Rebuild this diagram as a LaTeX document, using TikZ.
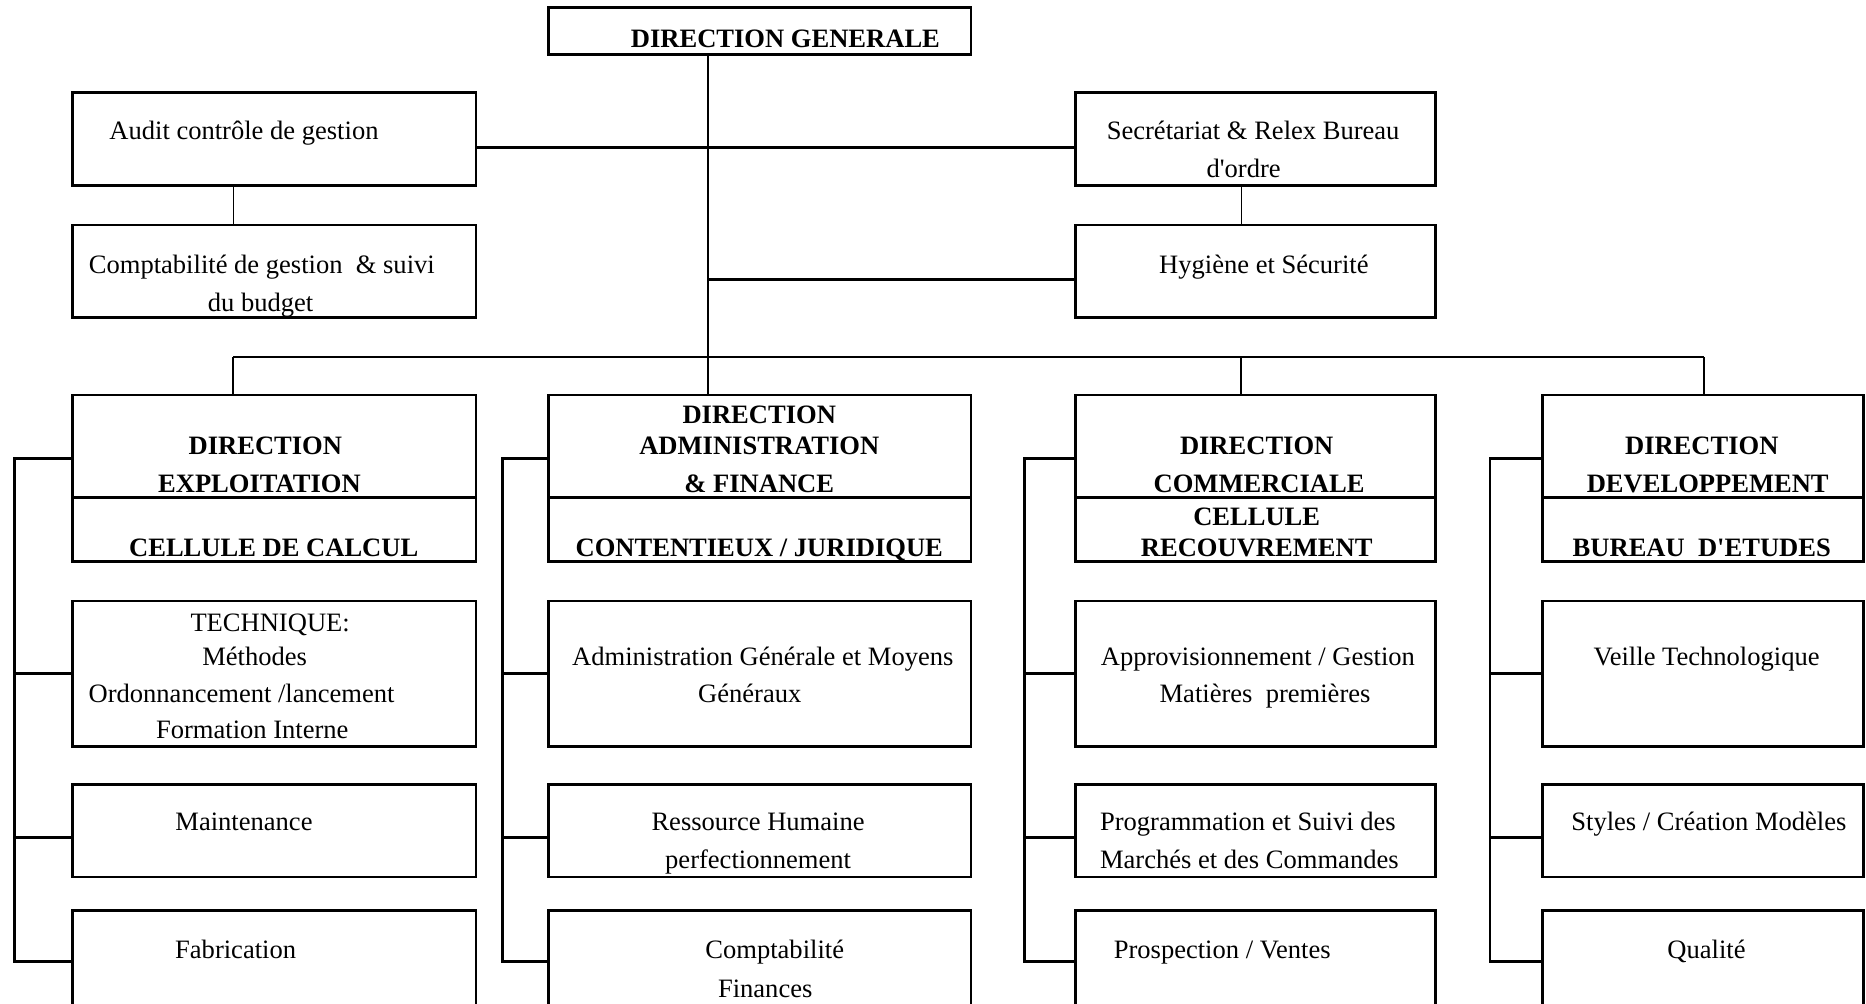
\documentclass[tikz,border=0pt]{standalone}
\usepackage{fontspec}
\setmainfont{Liberation Serif}[Ligatures=TeXOff]
\usetikzlibrary{fit}
\newcommand\pxu{0.0189cm}
\begin{document}
\begin{tikzpicture}[x=0.0189cm, y=-0.0189cm,
  box/.style={draw, line width=1.25pt, inner sep=0pt},
  lnk/.style={line width=1.25pt},
  mid/.style={line width=0.85pt},
  fine/.style={line width=0.6pt},
  txt/.style={inner sep=0pt, anchor=base, font=\fontsize{12}{14}\selectfont},
  btxt/.style={inner sep=0pt, anchor=base, font=\fontsize{12}{14}\selectfont\bfseries}]
\clip (0,0) rectangle (1568,843);

% top level and staff services
\node[box, fit={(461,6) (816,46)}] (dg) {};
\node[box, fit={(61,78) (400,156)}] (audit) {};
\node[box, fit={(904,78) (1206,156)}] (secr) {};
\node[box, fit={(61,189) (400,267)}] (cbud) {};
\node[box, fit={(904,189) (1206,267)}] (hyg) {};

% directions with their services and left-hand rails
\foreach \i/\xa/\xb/\xr in {1/61/400/12, 2/461/816/422, 3/904/1206/861, 4/1296/1566/1252} {
  \node[box, fit={(\xa,332) (\xb,418)}] (hd\i) {};
  \node[box, fit={(\xa,418) (\xb,472)}] (hc\i) {};
  \node[box, fit={(\xa,505) (\xb,627)}] (sa\i) {};
  \node[box, fit={(\xa,659) (\xb,737)}] (sb\i) {};
  \node[box, fit={(\xa,765) (\xb,851)}] (sc\i) {};
  \coordinate (rt\i) at (\xr,385);
  \draw[lnk] ([yshift=-10*\pxu]hd\i.west) -- ([yshift=-10*\pxu]hd\i.west -| rt\i)
     -- (sc\i.west -| rt\i) -- (sc\i.west);
  \draw[lnk] (sa\i.west -| rt\i) -- (sa\i.west);
  \draw[lnk] ([yshift=-6*\pxu]sb\i.west -| rt\i) -- ([yshift=-6*\pxu]sb\i.west);
}

% junctions on the distribution bus
\coordinate (j1) at (196,300);
\coordinate (j2) at (595,300);
\coordinate (j3) at (1043,300);
\coordinate (j4) at (1432,300);

% connectors
\draw[fine] (dg.south -| j2) -- (hd2.north -| j2);
\draw[lnk] ([yshift=-7*\pxu]audit.east) -- ([yshift=-7*\pxu]secr.west);
\draw[lnk] ([yshift=-7*\pxu]hyg.west -| j2) -- ([yshift=-7*\pxu]hyg.west);
\draw[fine] (audit.south -| j1) -- (cbud.north -| j1);
\draw[fine] (secr.south -| j3) -- (hyg.north -| j3);
\draw[lnk] (j1) -- (j4);
\draw[mid] (j1) -- (hd1.north -| j1);
\draw[mid] (j3) -- (hd3.north -| j3);
\draw[mid] (j4) -- (hd4.north -| j4);

\begin{scope}[yshift=-1.5*\pxu]
% labels: top
\node[btxt] (l-dg) at (660,38) {DIRECTION GENERALE};
\node[txt] (l-audit) at (205,116) {Audit contrôle de gestion};
\node[txt] (l-secr1) at (1053,116) {Secrétariat \& Relex Bureau};
\node[txt] (l-secr2) at (1045,148) {d'ordre};
\node[txt] (l-cbud1) at (220,228) {Comptabilité de gestion\ \ \& suivi};
\node[txt] (l-cbud2) at (219,260) {du budget};
\node[txt] (l-hyg) at (1062,228) {Hygiène et Sécurité};

% labels: exploitation
\node[btxt] (l-hd1a) at (223,380) {DIRECTION};
\node[btxt] (l-hd1b) at (218,412) {EXPLOITATION};
\node[btxt] (l-hc1) at (230,466) {CELLULE DE CALCUL};
\node[txt] (l-sa1a) at (227,529) {TECHNIQUE:};
\node[txt] (l-sa1b) at (214,558) {Méthodes};
\node[txt] (l-sa1c) at (203,589) {Ordonnancement /lancement};
\node[txt] (l-sa1d) at (212,619) {Formation Interne};
\node[txt] (l-sb1) at (205,696) {Maintenance};
\node[txt] (l-sc1) at (198,804) {Fabrication};

% labels: administration & finance
\node[btxt] (l-hd2a) at (638,354) {DIRECTION};
\node[btxt] (l-hd2b) at (638,380) {ADMINISTRATION};
\node[btxt] (l-hd2c) at (638,412) {\& FINANCE};
\node[btxt] (l-hc2) at (638,466) {CONTENTIEUX / JURIDIQUE};
\node[txt] (l-sa2a) at (641,558) {Administration Générale et Moyens};
\node[txt] (l-sa2b) at (630,589) {Généraux};
\node[txt] (l-sb2a) at (637,696) {Ressource Humaine};
\node[txt] (l-sb2b) at (637,728) {perfectionnement};
\node[txt] (l-sc2a) at (651,804) {Comptabilité};
\node[txt] (l-sc2b) at (643,837) {Finances};

% labels: commerciale
\node[btxt] (l-hd3a) at (1056,380) {DIRECTION};
\node[btxt] (l-hd3b) at (1058,412) {COMMERCIALE};
\node[btxt] (l-hc3a) at (1056,440) {CELLULE};
\node[btxt] (l-hc3b) at (1056,466) {RECOUVREMENT};
\node[txt] (l-sa3a) at (1057,558) {Approvisionnement / Gestion};
\node[txt] (l-sa3b) at (1063,589) {Matières\ \ premières};
\node[txt, anchor=base west] (l-sb3a) at (924,696) {Programmation et Suivi des};
\node[txt, anchor=base west] (l-sb3b) at (924,728) {Marchés et des Commandes};
\node[txt] (l-sc3) at (1027,804) {Prospection / Ventes};

% labels: developpement
\node[btxt] (l-hd4a) at (1430,380) {DIRECTION};
\node[btxt] (l-hd4b) at (1435,412) {DEVELOPPEMENT};
\node[btxt] (l-hc4) at (1430,466) {BUREAU\ \ D'ETUDES};
\node[txt] (l-sa4) at (1434,558) {Veille Technologique};
\node[txt] (l-sb4) at (1436,696) {Styles / Création Modèles};
\node[txt] (l-sc4) at (1434,804) {Qualité};
\end{scope}
\end{tikzpicture}
\end{document}
